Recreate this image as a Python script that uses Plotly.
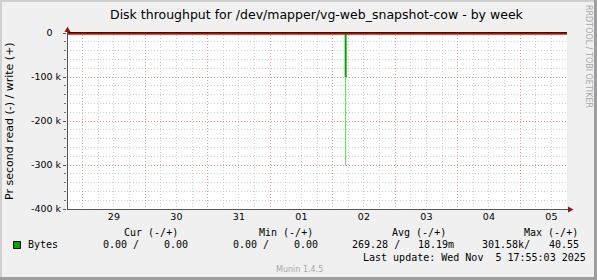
import plotly.graph_objects as go

# ---------------- data ----------------
x_range = ["2025-10-28 18:00", "2025-11-05 18:00"]
read_times = ["2025-10-28 18:00", "2025-11-02 05:00", "2025-11-02 05:00", "2025-11-02 05:00", "2025-11-05 18:00"]
read_avg = [0, 0, -100000, 0, 0]
spike_times = ["2025-11-02 05:00", "2025-11-02 05:00"]
read_max = [0, -301580]
write_times = ["2025-10-28 18:00", "2025-11-05 18:00"]
write_vals = [0, 0]

y_tickvals = [0, -100000, -200000, -300000, -400000]
y_ticktext = ["0<span style='color:rgba(0,0,0,0)'> k</span>", "-100 k", "-200 k", "-300 k", "-400 k"]

title_text = "Disk throughput for /dev/mapper/vg-web_snapshot-cow - by week"
ylabel_text = "Pr second read (-) / write (+)"
legend_heads = ["Cur (-/+)", "Min (-/+)", "Avg (-/+)", "Max (-/+)"]
legend_label = "Bytes"
legend_values = ["0.00 /", "0.00", "0.00 /", "0.00", "269.28 /", "18.19m", "301.58k/", "40.55"]
last_update = "Last update: Wed Nov  5 17:55:03 2025"
munin_ver = "Munin 1.4.5"
rrd_credit = "RRDTOOL / TOBI OETIKER"

# ---------------- layout geometry (pixels) ----------------
W, H = 597, 280
L, R, T, B = 67, 30, 32, 71
PW, PH = W - L - R, H - T - B
y_top = 400000 / 176.0  # 1 px above zero


def fx(px):
    return (px - L) / PW


def fy(py):
    return (H - B - py) / PH


MONO = "DejaVu Sans Mono"
SANS = "DejaVu Sans"

fig = go.Figure()
fig.add_trace(go.Scatter(x=spike_times, y=read_max, mode="lines",
                         line=dict(color="#4ede4e", width=1), hoverinfo="skip"))
fig.add_trace(go.Scatter(x=read_times, y=read_avg, mode="lines",
                         line=dict(color="#00a800", width=2), hoverinfo="skip"))
fig.add_trace(go.Scatter(x=write_times, y=write_vals, mode="lines",
                         line=dict(color="#000000", width=1.4), hoverinfo="skip"))

red_grid = "rgba(240,120,120,0.75)"
grey_grid = "#cfcfcf"

fig.update_xaxes(
    type="date", range=x_range, dtick=86400000, tick0="2025-10-29",
    ticklabelmode="period", tickformat="%d", showgrid=True,
    gridcolor=red_grid, griddash="1px,2px", gridwidth=1,
    minor=dict(dtick=6 * 3600000, showgrid=True, gridcolor=grey_grid, griddash="1px,2px"),
    showline=False, zeroline=False, ticks="",
    tickfont=dict(family=SANS, size=9.5, color="#000"),
)
fig.update_yaxes(
    range=[-400000, y_top], tickmode="array", tickvals=y_tickvals, ticktext=y_ticktext,
    showgrid=True, gridcolor=red_grid, griddash="1px,2px",
    minor=dict(dtick=20000, tick0=0, showgrid=True, gridcolor=grey_grid, griddash="1px,2px",
               ticks="outside", ticklen=2, tickcolor="#777"),
    ticks="outside", ticklen=3, tickcolor="#555", zeroline=False, showline=False,
    tickfont=dict(family=SANS, size=9.5, color="#000"),
)

shapes = []
# frame
shapes.append(dict(type="rect", xref="paper", yref="paper", x0=fx(0), x1=fx(2), y0=fy(H), y1=fy(0),
                   fillcolor="#cfcfcf", line=dict(width=0), layer="above"))
shapes.append(dict(type="rect", xref="paper", yref="paper", x0=fx(0), x1=fx(W), y0=fy(2), y1=fy(0),
                   fillcolor="#cfcfcf", line=dict(width=0), layer="above"))
shapes.append(dict(type="rect", xref="paper", yref="paper", x0=fx(W - 3), x1=fx(W), y0=fy(H), y1=fy(0),
                   fillcolor="#9e9e9e", line=dict(width=0), layer="above"))
shapes.append(dict(type="rect", xref="paper", yref="paper", x0=fx(0), x1=fx(W), y0=fy(H), y1=fy(H - 3),
                   fillcolor="#9e9e9e", line=dict(width=0), layer="above"))
# red line under zero
shapes.append(dict(type="line", xref="paper", yref="paper", x0=0, x1=1, y0=fy(34), y1=fy(34),
                   line=dict(color="#ff0000", width=1.3), layer="above"))
# axes
shapes.append(dict(type="line", xref="paper", yref="paper", x0=fx(67.5), x1=fx(67.5), y0=fy(209.5), y1=fy(29),
                   line=dict(color="#555555", width=1), layer="above"))
shapes.append(dict(type="line", xref="paper", yref="paper", x0=fx(67), x1=fx(570), y0=fy(209.5), y1=fy(209.5),
                   line=dict(color="#555555", width=1), layer="above"))
# arrows
shapes.append(dict(type="path", xref="paper", yref="paper",
                   path=f"M {fx(67.5)} {fy(26.5)} L {fx(64.5)} {fy(32)} L {fx(70.5)} {fy(32)} Z",
                   fillcolor="#8b1a1a", line=dict(width=0), layer="above"))
shapes.append(dict(type="path", xref="paper", yref="paper",
                   path=f"M {fx(573.5)} {fy(209.5)} L {fx(568)} {fy(206.5)} L {fx(568)} {fy(212.5)} Z",
                   fillcolor="#8b1a1a", line=dict(width=0), layer="above"))
# legend swatch
shapes.append(dict(type="rect", xref="paper", yref="paper", x0=fx(13.5), x1=fx(20.5), y0=fy(248.5), y1=fy(241.5),
                   fillcolor="#00a800", line=dict(color="#000", width=1), layer="above"))

ann = []


def txt(text, x, y, size=10, family=MONO, color="#000", xanchor="left", angle=0):
    ann.append(dict(text=text, x=fx(x), y=fy(y), xref="paper", yref="paper", showarrow=False,
                    xanchor=xanchor, yanchor="middle", textangle=angle,
                    font=dict(family=family, size=size, color=color), borderpad=0))


txt(title_text, 317, 14, size=12.5, family=SANS, xanchor="center")
txt(ylabel_text, 10, 121, size=11, family=SANS, xanchor="center", angle=-90)
txt(rrd_credit, 589, 56, size=8, family=SANS, color="#a8a8a8", xanchor="center", angle=90)

head_x = [123, 258, 391, 523]
for t, x in zip(legend_heads, head_x):
    txt(t, x, 232, family=MONO)
txt(legend_label, 27, 244.5)
val_x = [102, 163, 232, 293, 351, 417, 481, 548]
for t, x in zip(legend_values, val_x):
    txt(t, x, 244.5)
txt(last_update, 362, 257)
txt(munin_ver, 275, 269.5, size=8, family=SANS, color="#a8a8a8")

fig.update_layout(
    width=W, height=H, margin=dict(l=L, r=R, t=T, b=B, pad=0),
    paper_bgcolor="#f0f0f0", plot_bgcolor="#ffffff", showlegend=False,
    shapes=shapes, annotations=ann,
)
fig.write_html("out.html")
